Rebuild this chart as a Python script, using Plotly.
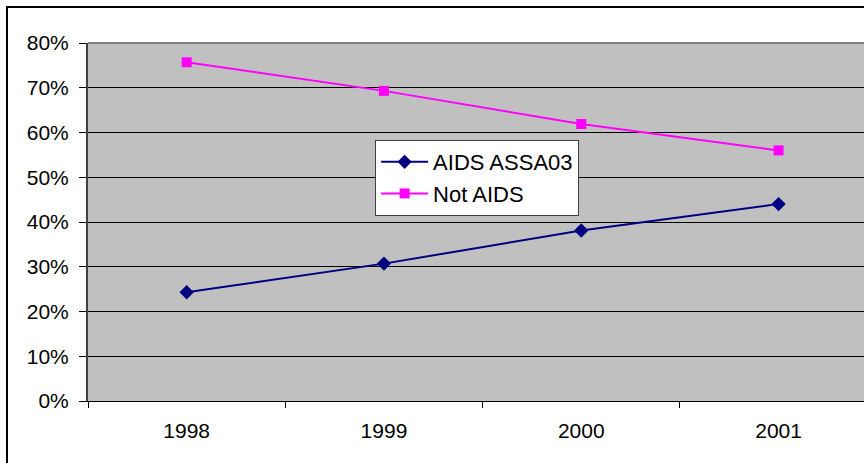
import plotly.graph_objects as go

years = ["1998", "1999", "2000", "2001"]
aids_assa03 = [0.243, 0.307, 0.381, 0.440]
not_aids = [0.757, 0.693, 0.619, 0.560]
y_ticks = [0, 0.1, 0.2, 0.3, 0.4, 0.5, 0.6, 0.7, 0.8]

fig = go.Figure()
fig.add_trace(go.Scatter(
    x=years, y=aids_assa03, name="AIDS ASSA03", mode="lines+markers",
    line=dict(color="#000080", width=2),
    marker=dict(symbol="diamond", size=11, color="#000080"),
))
fig.add_trace(go.Scatter(
    x=years, y=not_aids, name="Not AIDS", mode="lines+markers",
    line=dict(color="#FF00FF", width=2),
    marker=dict(symbol="square", size=10, color="#FF00FF"),
))

font = dict(family="Liberation Sans, Arial, sans-serif", size=21, color="black")
legend_font = dict(family="Liberation Sans, Arial, sans-serif", size=22, color="black")

fig.update_layout(
    width=864, height=463,
    margin=dict(l=88, r=0, t=43, b=62),
    paper_bgcolor="white", plot_bgcolor="#C0C0C0",
    font=font,
    showlegend=True,
    legend=dict(
        x=0.37, y=0.729, xanchor="left", yanchor="top",
        bgcolor="white", bordercolor="#404040", borderwidth=1,
        font=legend_font, tracegroupgap=0, itemwidth=47,
    ),
    xaxis=dict(
        type="category", range=[-0.5, 3.433],
        tickson="boundaries", ticks="outside", ticklen=6, tickcolor="black",
        showgrid=False, showline=True, linecolor="black", linewidth=1,
        tickfont=font, ticklabelstandoff=11,
    ),
    yaxis=dict(
        range=[0, 0.8], tickvals=y_ticks, tickformat=".0%",
        ticks="outside", ticklen=7, tickcolor="black",
        showgrid=True, gridcolor="black", gridwidth=1,
        showline=True, linecolor="#404040", linewidth=2,
        zeroline=False, tickfont=font, ticklabelstandoff=6,
    ),
    shapes=[
        dict(type="line", xref="paper", yref="paper", x0=0, x1=1.1, y0=1, y1=1,
             line=dict(color="#808080", width=2)),
        dict(type="rect", xref="paper", yref="paper", x0=-0.1044, x1=2, y0=-0.5, y1=1.1006,
             line=dict(color="black", width=2), fillcolor="rgba(0,0,0,0)", layer="above"),
    ],
)

fig.write_html("out.html")
